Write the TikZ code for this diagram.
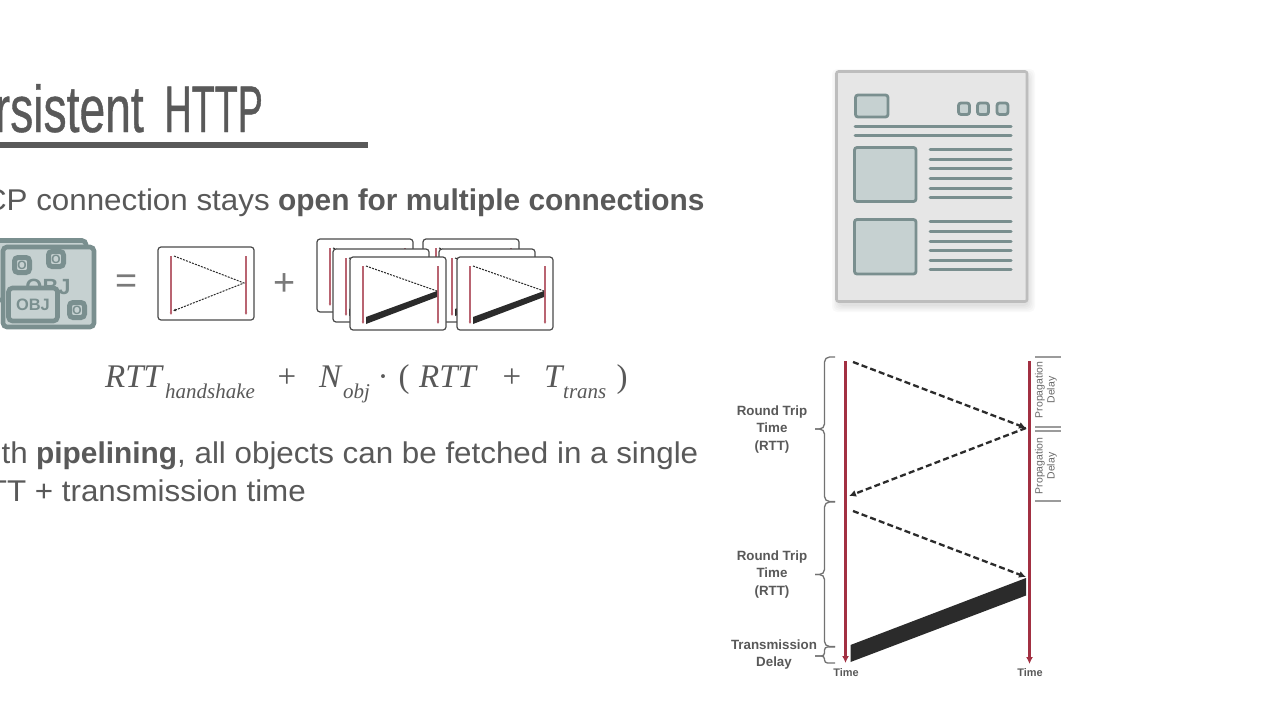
\documentclass[tikz,border=0pt]{standalone}
\usepackage{fontspec}
\setmainfont{Liberation Sans}
\newfontfamily\titlefont[FakeStretch=0.70,FakeBold=0.6]{Liberation Sans}
\newfontfamily\titlecaps[FakeStretch=0.57,FakeBold=0.6]{Liberation Sans}
\newfontfamily\bodyfont[FakeStretch=1.045]{Liberation Sans}
\newfontfamily\boldfont[FakeStretch=0.995]{Liberation Sans}
\newfontfamily\mathfont{Liberation Serif}
\usetikzlibrary{arrows.meta}
\definecolor{txt}{HTML}{595959}
\definecolor{teal}{HTML}{7A8F8F}
\definecolor{pale}{HTML}{C6D1D1}
\definecolor{wine}{HTML}{A23042}
\definecolor{ink}{HTML}{2B2B2B}
\definecolor{page}{HTML}{E6E6E6}
\definecolor{edgegray}{HTML}{BDBDBD}
\tikzset{
  x=1pt,y=-1pt,
  bodytext/.style={font=\bodyfont\fontsize{30}{36}\selectfont,text=txt,inner sep=0pt},
  boldtext/.style={font=\boldfont\bfseries\fontsize{30}{36}\selectfont,text=txt,inner sep=0pt},
  formula/.style={font=\mathfont\itshape\fontsize{33}{38}\selectfont,text=txt,inner sep=0pt,anchor=base west},
  formsub/.style={font=\mathfont\itshape\fontsize{21}{26}\selectfont,text=txt,inner sep=0pt,anchor=base west},
  formop/.style={font=\mathfont\fontsize{33}{38}\selectfont,text=txt,inner sep=0pt,anchor=base},
  label/.style={font=\boldfont\bfseries\fontsize{13.4}{17.5}\selectfont,text=txt,align=center,inner sep=0pt},
  timelabel/.style={font=\boldfont\bfseries\fontsize{11}{13}\selectfont,text=txt,inner sep=0pt},
  proplabel/.style={font=\boldfont\fontsize{10.5}{12}\selectfont,text=txt!90,align=center,inner sep=0pt,rotate=90},
  timeline/.style={draw=wine,line width=2.4pt,-{Latex[length=7pt,width=7pt]}},
  minitime/.style={draw=wine!75,line width=1.1pt,-{Latex[length=2.5pt,width=3pt]}},
  dashmsg/.style={draw=ink,line width=2.3pt,dash pattern=on 6pt off 3.2pt,-{Latex[length=7pt,width=7pt]}},
  minidash/.style={draw=ink,line width=1pt,dash pattern=on 2pt off 1.2pt},
  card/.style={draw=ink!85,fill=white,line width=1.2pt,rounded corners=3pt},
  brace/.style={draw=txt!85,line width=1.3pt,rounded corners=5pt},
  rulemark/.style={draw=txt!60,line width=1.2pt},
  docline/.style={draw=teal,line width=3pt,line cap=round},
  docbox/.style={draw=teal,fill=pale,line width=2.8pt,rounded corners=2.5pt},
  objbox/.style={draw=teal,fill=pale,line width=4.6pt,rounded corners=4pt},
  badge/.style={draw=teal,fill=pale,line width=5pt,rounded corners=3.5pt,minimum size=15pt,inner sep=0pt,font=\boldfont\bfseries\fontsize{12}{12}\selectfont,text=teal},
  softshadow/.style={fill=black,fill opacity=.025,rounded corners=5pt},
  pics/minicard/.style={code={
    \path[card] (0,0) rectangle (96,73);
    \draw[minitime] (13,9) -- (13,67);
    \draw[minitime] (88,9) -- (88,67);
    \draw[minidash] (16,9) -- (87,34);
    \fill[ink] (16,60) -- (87,34) -- (87,40) -- (16,67) -- cycle;
  }}
}
\begin{document}
\begin{tikzpicture}
\useasboundingbox (0,0) rectangle (1280,720);
\fill[white] (0,0) rectangle (1280,720);

% title
\node[font=\fontsize{66}{70}\selectfont,text=txt,anchor=base east,inner sep=0pt] (title) at (263,132) {\titlefont rsistent\hspace{8pt} \titlecaps HTTP};
\fill[txt] (0,142) rectangle (368,148);

% bullet 1
\node[bodytext,anchor=base east] (b1a) at (270,210) {CP connection stays};
\node[boldtext,anchor=base west] (b1b) at (278,210) {open for multiple connections};

% object icon
\path[objbox] (-8,240.5) rectangle (86,300);
\path[objbox] (3,247) rectangle (94,327);
\node[font=\boldfont\bfseries\fontsize{22}{22}\selectfont,text=teal] (bigobj) at (48,287) {OBJ};
\node[badge] (o1) at (22,265) {O};
\node[badge] (o2) at (56,259) {O};
\node[badge] (o3) at (77,310) {O};
\node[objbox,minimum width=49pt,minimum height=33pt,inner sep=0pt,font=\boldfont\bfseries\fontsize{16.5}{17}\selectfont,text=teal] (frontobj) at (33,304.5) {OBJ};

\node[font=\boldfont\fontsize{38}{38}\selectfont,text=txt!80,inner sep=0pt] (eq) at (127,284) {=};
\node[font=\boldfont\fontsize{38}{38}\selectfont,text=txt!80,inner sep=0pt] (pl) at (285,285) {+};

% handshake card
\path[card] (158,247) rectangle (254,320);
\draw[minitime] (171,256) -- (171,315);
\draw[minitime] (246,256) -- (246,315);
\draw[minidash,-{Latex[length=3pt,width=3pt]}] (174,256) -- (244,283) -- (173,311);

% stacked cards: right stack lies behind the left one
\pic at (423,239) {minicard};
\pic at (439,249) {minicard};
\pic at (457,257) {minicard};
\pic at (317,239) {minicard};
\pic at (333,249) {minicard};
\pic at (350,257) {minicard};

% formula
\node[formula] (f1) at (105,387) {RTT};
\node[formsub] (f1s) at (165,398) {handshake};
\node[formop] (f2) at (287,387) {+};
\node[formula] (f3) at (319,387) {N};
\node[formsub] (f3s) at (343,398) {obj};
\node[formop] (f4) at (383,387) {·};
\node[formop] (f5) at (404,387) {(};
\node[formula] (f6) at (419,387) {RTT};
\node[formop] (f7) at (512,387) {+};
\node[formula] (f8) at (544,387) {T};
\node[formsub] (f8s) at (563,398) {trans};
\node[formop] (f9) at (622,387) {)};

% bullet 2
\node[bodytext,anchor=base east] (b2a) at (28,463) {th};
\node[boldtext,anchor=base west] (b2b) at (36,463) {pipelining};
\node[bodytext,anchor=base west] (b2c) at (177,463) {, all objects can be fetched in a single};
\node[bodytext,anchor=base east] (b2d) at (306,501) {TT + transmission time};

% web page
\foreach \g in {0,1.5,3,4.5,6}
  \path[softshadow] (836-\g+2,71-\g+4) rectangle (1027+\g+2,302+\g+4);
\path[draw=edgegray,fill=page,line width=2.6pt,rounded corners=2pt] (836.5,71.5) rectangle (1027,301.5);
\path[docbox] (855.5,95) rectangle (888,117);
\path[docbox] (958.5,103) rectangle (969.5,114.5);
\path[docbox] (977.5,103) rectangle (988.5,114.5);
\path[docbox] (997,103) rectangle (1008,114.5);
\draw[docline] (855,126) -- (1011,126);
\draw[docline] (855,135.5) -- (1011,135.5);
\path[docbox] (854.5,147.5) rectangle (916,201.5);
\path[docbox] (854.5,219.5) rectangle (916,274);
\foreach \yy in {149.5,159,168.8,178.3,188,197.5,221.5,231,241,250.5,260,269.5}
  \draw[docline] (930,\yy) -- (1011,\yy);

% sequence diagram
\coordinate (ltop) at (845.5,361);
\coordinate (lbot) at (845.5,663);
\coordinate (rtop) at (1029.5,361);
\coordinate (rbot) at (1029.5,664);
\draw[timeline] (ltop) -- (lbot);
\draw[timeline] (rtop) -- (rbot);
\coordinate (m1) at (853,362);
\coordinate (m2) at (1026,428);
\coordinate (m3) at (849,496);
\coordinate (m4) at (853,511);
\coordinate (m5) at (1026,577);
\draw[dashmsg] (m1) -- (m2);
\draw[dashmsg] (m2) -- (m3);
\draw[dashmsg] (m4) -- (m5);
\fill[ink] (850.5,645) -- (1026,578) -- (1026,595.5) -- (850.5,662) -- cycle;

% braces
\draw[brace] (835,357) -- (824.5,357) -- (824.5,429) -- (815,429);
\draw[brace] (815,429) -- (824.5,429) -- (824.5,501.5) -- (835,501.5);
\draw[brace] (835,502) -- (824.5,502) -- (824.5,574.5) -- (815,574.5);
\draw[brace] (815,574.5) -- (824.5,574.5) -- (824.5,646.5) -- (835,646.5);
\draw[brace,rounded corners=3pt] (835,647) -- (824.5,647) -- (824.5,656) -- (815,656);
\draw[brace,rounded corners=3pt] (815,656) -- (824.5,656) -- (824.5,663) -- (835,663);

\node[label] (rtt1) at (772,429.5) {Round Trip\\Time\\(RTT)};
\node[label] (rtt2) at (772,574.5) {Round Trip\\Time\\(RTT)};
\node[label] (tx) at (774,654.5) {Transmission\\Delay};
\node[timelabel] (t1) at (846,672.5) {Time};
\node[timelabel] (t2) at (1030,672.5) {Time};

% propagation markers
\draw[rulemark] (1035,357) -- (1061,357);
\draw[rulemark] (1035,427) -- (1061,427);
\draw[rulemark] (1035,431) -- (1061,431);
\draw[rulemark] (1035,501) -- (1061,501);
\node[proplabel] (p1) at (1046,390) {Propagation\\Delay};
\node[proplabel] (p2) at (1046,466) {Propagation\\Delay};
\end{tikzpicture}
\end{document}
